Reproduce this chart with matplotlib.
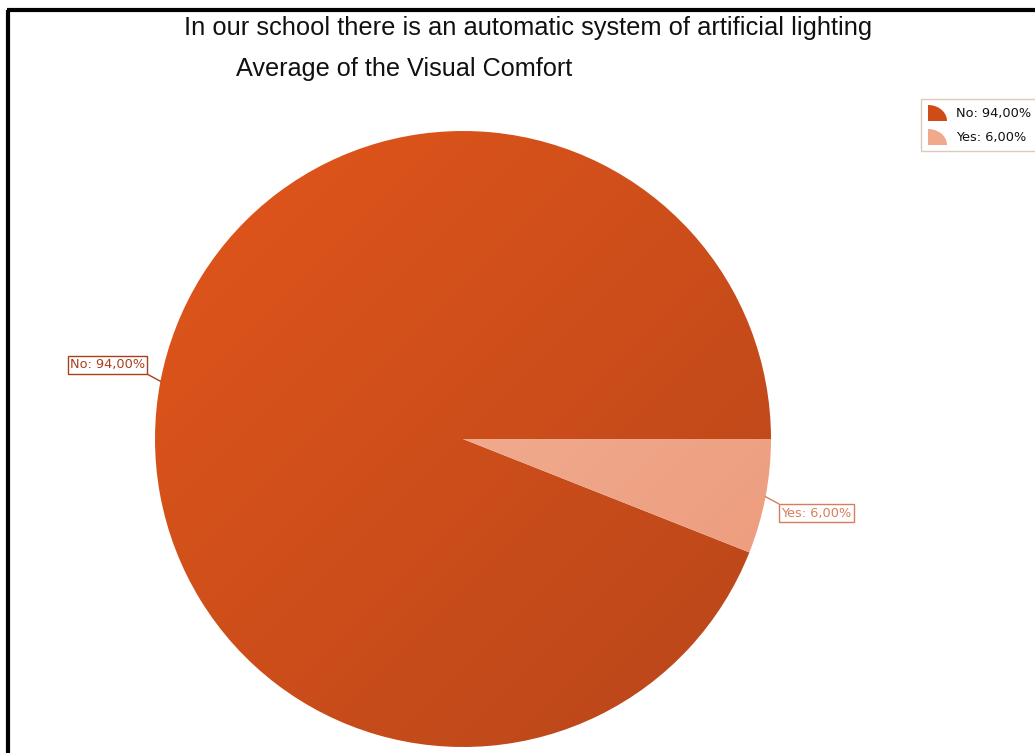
import numpy as np
import matplotlib
matplotlib.use("Agg")
import matplotlib.pyplot as plt
from matplotlib.patches import Rectangle, Polygon
from matplotlib.colors import LinearSegmentedColormap

# Survey answers
categories = ["No", "Yes"]
shares = [94.00, 6.00]
title_line1 = "In our school there is an automatic system of artificial lighting"
title_line2 = "Average of the Visual Comfort"

# Gradient end colours per slice (light -> dark)
grad_colors = [("#E2561B", "#B8461A"), ("#F4BCA3", "#EC9878")]
icon_colors = ["#CF4C18", "#F0A98A"]
label_colors = ["#A8401C", "#D67E5C"]

W, H = 1035, 753
fig = plt.figure(figsize=(W / 100, H / 100), dpi=100)
ax = fig.add_axes([0, 0, 1, 1])

cx, cy, r = 463, H - 439, 308

wedges, _ = ax.pie(shares, center=(cx, cy), radius=r, startangle=0,
                   counterclock=True, frame=True,
                   wedgeprops=dict(linewidth=0, antialiased=True))
ax.set_xlim(0, W)
ax.set_ylim(0, H)
ax.set_aspect("equal")
ax.axis("off")

# Diagonal gradient fill clipped to each wedge
yy, xx = np.mgrid[0:1:400j, 0:1:400j]
t = (xx + yy) / 2.0
for w, (c0, c1) in zip(wedges, grad_colors):
    cmap = LinearSegmentedColormap.from_list("g", [c0, c1])
    w.set_facecolor("none")
    im = ax.imshow(t, cmap=cmap, extent=(cx - r, cx + r, cy - r, cy + r),
                   origin="upper", interpolation="bilinear", zorder=1)
    im.set_clip_path(w)

# Callout labels with connector lines
for w, cat, val, col in zip(wedges, categories, shares, label_colors):
    mid = np.deg2rad((w.theta1 + w.theta2) / 2)
    ex, ey = cx + r * np.cos(mid), cy + r * np.sin(mid)
    sx = 1 if np.cos(mid) > 0 else -1
    sy = 1 if np.sin(mid) > 0 else -1
    lx, ly = ex + sx * 13, ey + sy * 7
    txt = f"{cat}: {val:.2f}%".replace(".", ",")
    ax.plot([ex, lx], [ey, ly], color=col, lw=1, zorder=3)
    ax.text(lx + sx * 2.5, ly + sy * 3, txt,
            ha="left" if sx > 0 else "right",
            va="bottom" if sy > 0 else "top",
            fontsize=9.3, color=col, family="DejaVu Sans", zorder=4,
            bbox=dict(boxstyle="square,pad=0.18", fc="white", ec=col, lw=1))

# Titles
fig.text(528 / W, 1 - 28 / H, title_line1, ha="center", va="center",
         fontsize=18.4, family="Liberation Sans", color="#111111")
fig.text(404 / W, 1 - 69 / H, title_line2, ha="center", va="center",
         fontsize=18.2, family="Liberation Sans", color="#111111")

# Legend with pie-wedge icons
ax.add_patch(Rectangle((921, H - 151), 140, 52, fc="white", ec="#DCCBB8",
                       lw=1, zorder=5, clip_on=False))
th = np.linspace(0, np.pi / 2, 30)
for i, (cat, val, col) in enumerate(zip(categories, shares, icon_colors)):
    yc = H - (113 + i * 24)
    x0, y0 = 928, yc - 8
    pts = [(x0, y0)] + [(x0 + 19 * np.cos(a), y0 + 16 * np.sin(a)) for a in th]
    ax.add_patch(Polygon(pts, closed=True, fc=col, ec="none", zorder=6))
    ax.text(956, yc, f"{cat}: {val:.2f}%".replace(".", ","), ha="left",
            va="center", fontsize=9.3, color="#111111", family="DejaVu Sans",
            zorder=6)

# Black frame on left and top
ax.plot([8, 8], [0, H - 10], color="black", lw=3, solid_capstyle="butt",
        zorder=7)
ax.plot([6.5, W], [H - 10, H - 10], color="black", lw=3,
        solid_capstyle="butt", zorder=7)

fig.savefig("out.png", dpi=100, facecolor="white")
